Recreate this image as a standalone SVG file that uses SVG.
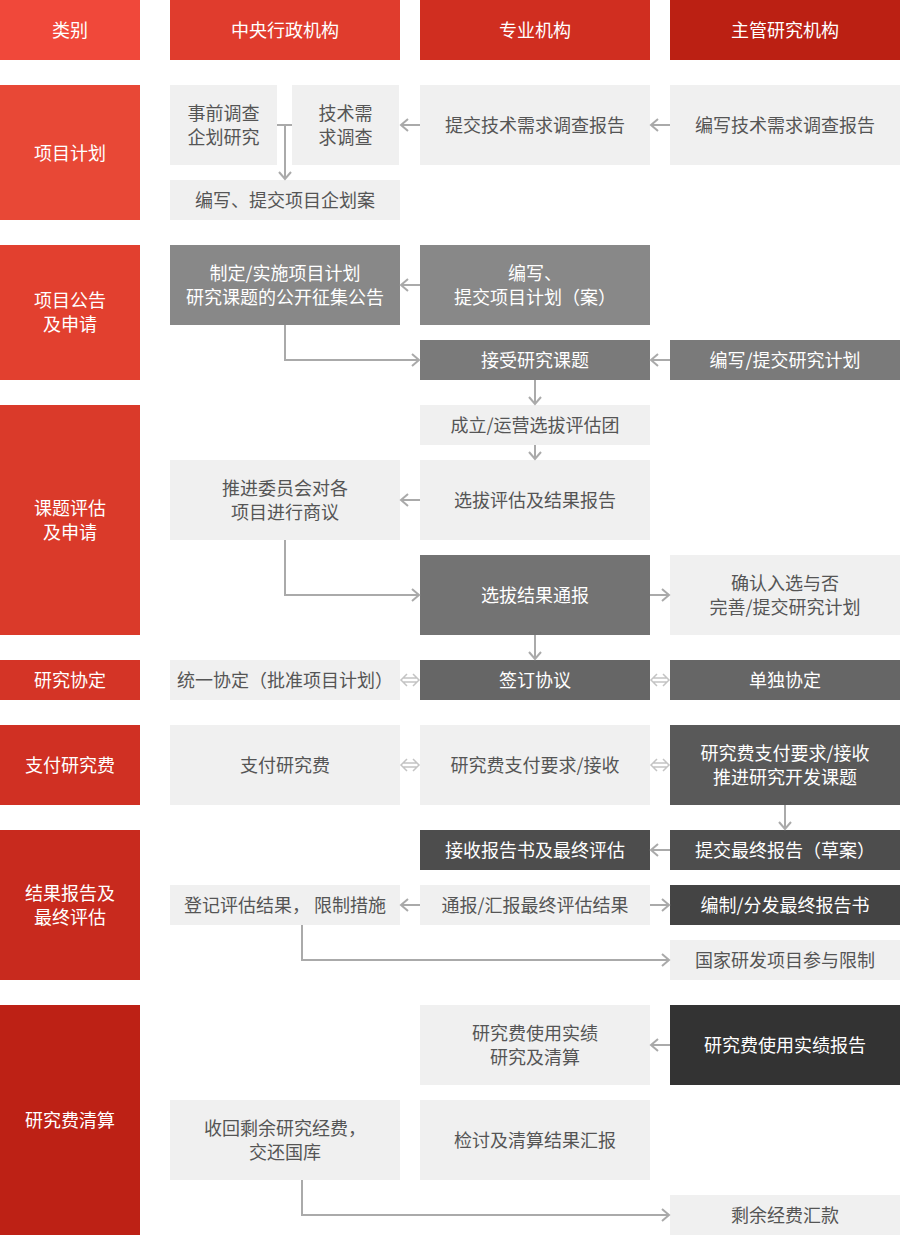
<svg xmlns="http://www.w3.org/2000/svg" width="900" height="1235" viewBox="0 0 900 1235">
<defs>
<style>
text{font-family:"Noto Sans CJK SC","Liberation Sans",sans-serif;font-size:18px;text-anchor:middle;dominant-baseline:central}
.w{fill:#fff}
.d{fill:#555}
.lt{fill:#f0f0f0}
.c{fill:none;stroke:#aaa;stroke-width:2}
.dbl{fill:none;stroke:#c4c4c4;stroke-width:1.5}
</style>
<marker id="ah" markerWidth="12" markerHeight="14" refX="9" refY="7" orient="auto" markerUnits="userSpaceOnUse">
<path d="M2,1 L9,7 L2,13" fill="none" stroke="#aaa" stroke-width="2"/>
</marker>
</defs>
<rect width="900" height="1235" fill="#fff"/>

<g id="headers" transform="translate(0,-1)">
<g id="h0"><rect x="0" y="1" width="140" height="60" fill="#f0483a"/><text x="70" y="30" class="w">类别</text></g>
<g id="h1"><rect x="170" y="1" width="230" height="60" fill="#e03c2d"/><text x="285" y="30" class="w">中央行政机构</text></g>
<g id="h2"><rect x="420" y="1" width="230" height="60" fill="#d02e20"/><text x="535" y="30" class="w">专业机构</text></g>
<g id="h3"><rect x="670" y="1" width="230" height="60" fill="#bb2013"/><text x="785" y="30" class="w">主管研究机构</text></g>
</g>

<g id="categories">
<g id="cat1"><rect x="0" y="85" width="140" height="135" fill="#e84836"/><text x="70" y="152" class="w">项目计划</text></g>
<g id="cat2"><rect x="0" y="245" width="140" height="135" fill="#e2402f"/><text x="70" y="299" class="w">项目公告</text><text x="70" y="323" class="w">及申请</text></g>
<g id="cat3"><rect x="0" y="405" width="140" height="230" fill="#da3a2a"/><text x="70" y="507" class="w">课题评估</text><text x="70" y="531" class="w">及申请</text></g>
<g id="cat4"><rect x="0" y="660" width="140" height="40" fill="#d43426"/><text x="70" y="679" class="w">研究协定</text></g>
<g id="cat5"><rect x="0" y="725" width="140" height="80" fill="#d03023"/><text x="70" y="764" class="w">支付研究费</text></g>
<g id="cat6"><rect x="0" y="830" width="140" height="150" fill="#c82a1e"/><text x="70" y="892" class="w">结果报告及</text><text x="70" y="916" class="w">最终评估</text></g>
<g id="cat7"><rect x="0" y="1005" width="140" height="230" fill="#bd2115"/><text x="70" y="1119" class="w">研究费清算</text></g>
</g>

<g id="n1a"><rect x="170" y="85" width="107" height="80" class="lt"/><text x="223.5" y="112" class="d">事前调查</text><text x="223.5" y="136" class="d">企划研究</text></g>
<g id="n1b"><rect x="292" y="85" width="107" height="80" class="lt"/><text x="345.5" y="112" class="d">技术需</text><text x="345.5" y="136" class="d">求调查</text></g>
<g id="n1c"><rect x="170" y="180" width="230" height="40" class="lt"/><text x="285" y="199" class="d">编写、提交项目企划案</text></g>
<g id="n1d"><rect x="420" y="85" width="230" height="80" class="lt"/><text x="535" y="124" class="d">提交技术需求调查报告</text></g>
<g id="n1e"><rect x="670" y="85" width="230" height="80" class="lt"/><text x="785" y="124" class="d">编写技术需求调查报告</text></g>

<g id="n2a"><rect x="170" y="245" width="230" height="80" fill="#888"/><text x="285" y="272" class="w">制定/实施项目计划</text><text x="285" y="296" class="w">研究课题的公开征集公告</text></g>
<g id="n2b"><rect x="420" y="245" width="230" height="80" fill="#888"/><text x="535" y="272" class="w">编写、</text><text x="535" y="296" class="w">提交项目计划（案）</text></g>
<g id="n2c"><rect x="420" y="340" width="230" height="40" fill="#7a7a7a"/><text x="535" y="359" class="w">接受研究课题</text></g>
<g id="n2d"><rect x="670" y="340" width="230" height="40" fill="#7a7a7a"/><text x="785" y="359" class="w">编写/提交研究计划</text></g>

<g id="n3a"><rect x="420" y="405" width="230" height="40" class="lt"/><text x="535" y="424" class="d">成立/运营选拔评估团</text></g>
<g id="n3b"><rect x="170" y="460" width="230" height="80" class="lt"/><text x="285" y="487" class="d">推进委员会对各</text><text x="285" y="511" class="d">项目进行商议</text></g>
<g id="n3c"><rect x="420" y="460" width="230" height="80" class="lt"/><text x="535" y="499" class="d">选拔评估及结果报告</text></g>
<g id="n3d"><rect x="420" y="555" width="230" height="80" fill="#737373"/><text x="535" y="594" class="w">选拔结果通报</text></g>
<g id="n3e"><rect x="670" y="555" width="230" height="80" class="lt"/><text x="785" y="582" class="d">确认入选与否</text><text x="785" y="606" class="d">完善/提交研究计划</text></g>

<g id="n4a"><rect x="170" y="660" width="230" height="40" class="lt"/><text x="285" y="679" class="d">统一协定（批准项目计划）</text></g>
<g id="n4b"><rect x="420" y="660" width="230" height="40" fill="#666"/><text x="535" y="679" class="w">签订协议</text></g>
<g id="n4c"><rect x="670" y="660" width="230" height="40" fill="#666"/><text x="785" y="679" class="w">单独协定</text></g>

<g id="n5a"><rect x="170" y="725" width="230" height="80" class="lt"/><text x="285" y="764" class="d">支付研究费</text></g>
<g id="n5b"><rect x="420" y="725" width="230" height="80" class="lt"/><text x="535" y="764" class="d">研究费支付要求/接收</text></g>
<g id="n5c"><rect x="670" y="725" width="230" height="80" fill="#595959"/><text x="785" y="752" class="w">研究费支付要求/接收</text><text x="785" y="776" class="w">推进研究开发课题</text></g>

<g id="n6a"><rect x="420" y="830" width="230" height="40" fill="#4d4d4d"/><text x="535" y="849" class="w">接收报告书及最终评估</text></g>
<g id="n6b"><rect x="670" y="830" width="230" height="40" fill="#4d4d4d"/><text x="785" y="849" class="w">提交最终报告（草案）</text></g>
<g id="n6c"><rect x="170" y="885" width="230" height="40" class="lt"/><text x="285" y="904" class="d">登记评估结果， 限制措施</text></g>
<g id="n6d"><rect x="420" y="885" width="230" height="40" class="lt"/><text x="535" y="904" class="d">通报/汇报最终评估结果</text></g>
<g id="n6e"><rect x="670" y="885" width="230" height="40" fill="#444"/><text x="785" y="904" class="w">编制/分发最终报告书</text></g>
<g id="n6f"><rect x="670" y="940" width="230" height="40" class="lt"/><text x="785" y="959" class="d">国家研发项目参与限制</text></g>

<g id="n7a"><rect x="420" y="1005" width="230" height="80" class="lt"/><text x="535" y="1032" class="d">研究费使用实绩</text><text x="535" y="1056" class="d">研究及清算</text></g>
<g id="n7b"><rect x="670" y="1005" width="230" height="80" fill="#333"/><text x="785" y="1044" class="w">研究费使用实绩报告</text></g>
<g id="n7c"><rect x="170" y="1100" width="230" height="80" class="lt"/><text x="285" y="1127" class="d">收回剩余研究经费，</text><text x="285" y="1151" class="d">交还国库</text></g>
<g id="n7d"><rect x="420" y="1100" width="230" height="80" class="lt"/><text x="535" y="1139" class="d">检讨及清算结果汇报</text></g>
<g id="n7e"><rect x="670" y="1195" width="230" height="40" class="lt"/><text x="785" y="1214" class="d">剩余经费汇款</text></g>

<g id="connectors">
<path class="c" d="M420,125 H401" marker-end="url(#ah)"/>
<path class="c" d="M670,125 H651" marker-end="url(#ah)"/>
<path class="c" d="M277,125 H292 M285,125 V179" marker-end="url(#ah)"/>
<path class="c" d="M420,285 H401" marker-end="url(#ah)"/>
<path class="c" d="M285,325 V360 H419" marker-end="url(#ah)"/>
<path class="c" d="M670,360 H651" marker-end="url(#ah)"/>
<path class="c" d="M535,380 V404" marker-end="url(#ah)"/>
<path class="c" d="M535,445 V459" marker-end="url(#ah)"/>
<path class="c" d="M420,500 H401" marker-end="url(#ah)"/>
<path class="c" d="M285,540 V595 H419" marker-end="url(#ah)"/>
<path class="c" d="M650,595 H669" marker-end="url(#ah)"/>
<path class="c" d="M535,635 V659" marker-end="url(#ah)"/>
<path class="c" d="M785,805 V829" marker-end="url(#ah)"/>
<path class="c" d="M670,850 H651" marker-end="url(#ah)"/>
<path class="c" d="M420,905 H401" marker-end="url(#ah)"/>
<path class="c" d="M650,905 H669" marker-end="url(#ah)"/>
<path class="c" d="M302,925 V960 H669" marker-end="url(#ah)"/>
<path class="c" d="M670,1045 H651" marker-end="url(#ah)"/>
<path class="c" d="M302,1180 V1215 H669" marker-end="url(#ah)"/>
<path class="dbl" d="M407,674 L401,680 L407,686 M413,674 L419,680 L413,686 M403,678 H417 M403,682 H417"/>
<path class="dbl" d="M657,674 L651,680 L657,686 M663,674 L669,680 L663,686 M653,678 H667 M653,682 H667"/>
<path class="dbl" d="M407,759 L401,765 L407,771 M413,759 L419,765 L413,771 M403,763 H417 M403,767 H417"/>
<path class="dbl" d="M657,759 L651,765 L657,771 M663,759 L669,765 L663,771 M653,763 H667 M653,767 H667"/>
</g>
</svg>
